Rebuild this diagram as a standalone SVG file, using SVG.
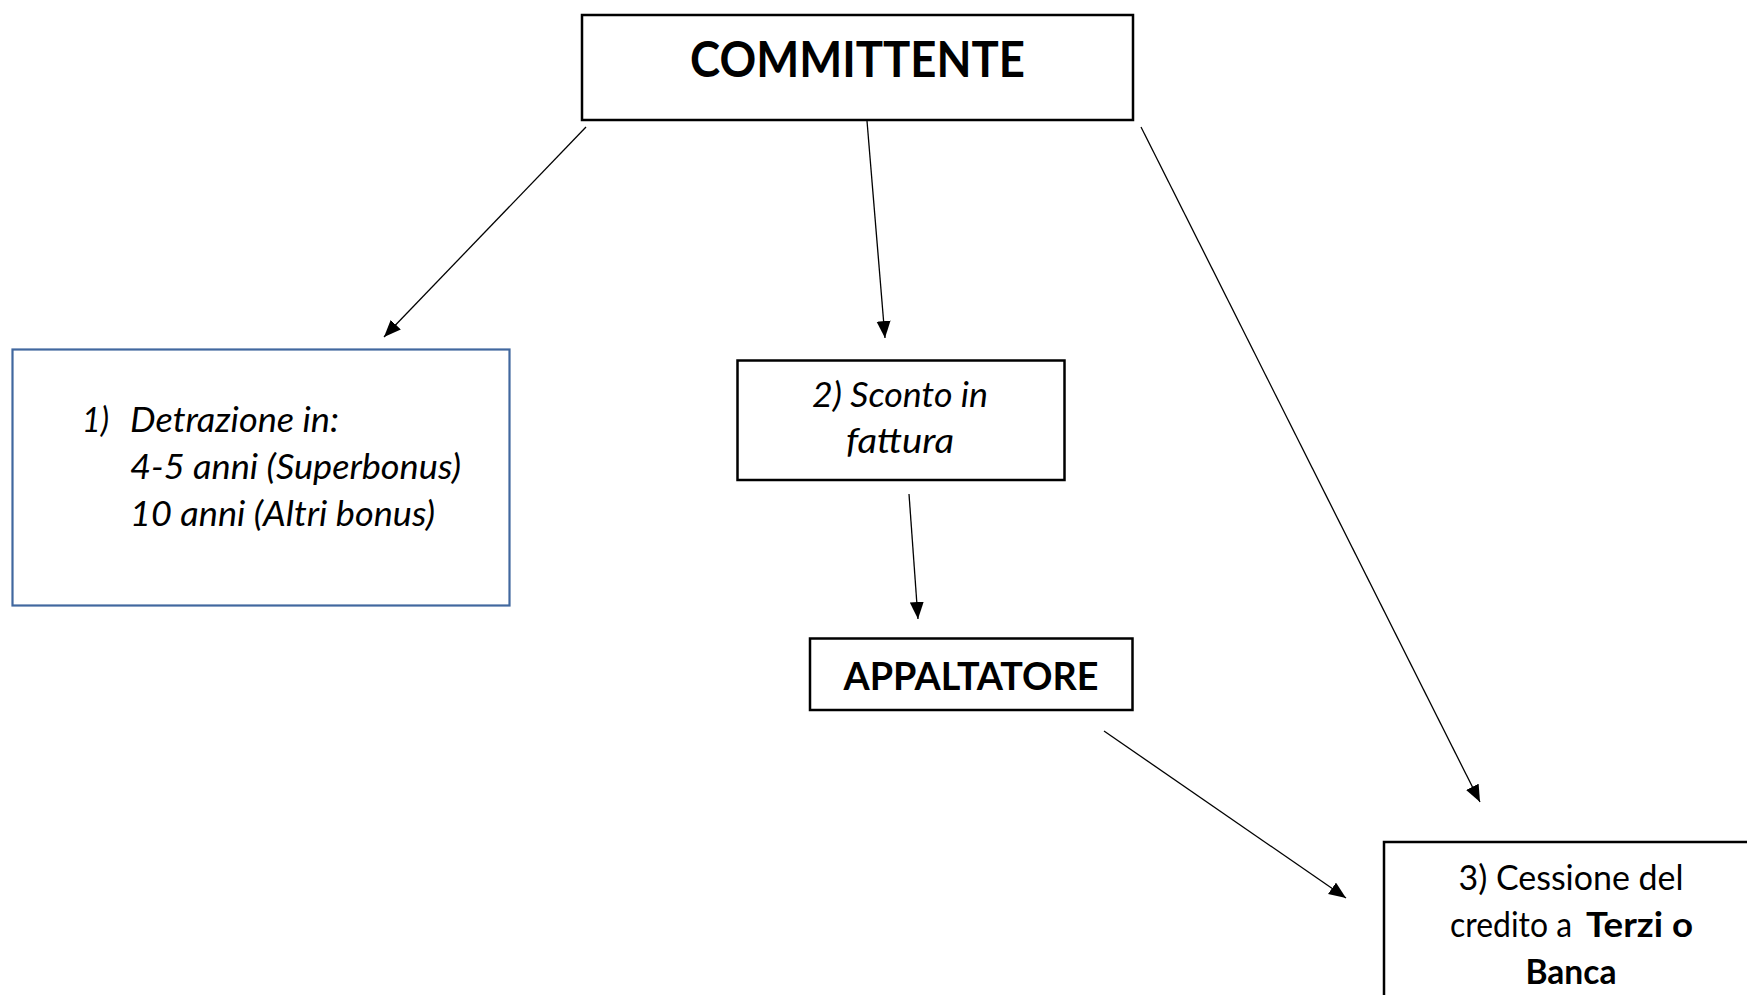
<svg xmlns="http://www.w3.org/2000/svg" width="1747" height="995" viewBox="0 0 1747 995">
  <defs>
    <marker id="arrow" markerUnits="userSpaceOnUse" markerWidth="18" markerHeight="15" refX="17" refY="7" orient="auto">
      <path d="M0,0 L17,7 L0,14 z" fill="#000"/>
    </marker>
    <style>
      .box { fill: #fff; stroke: #000; stroke-width: 2.5; }
      .blue { fill: #fff; stroke: #41689f; stroke-width: 2.2; }
      .conn { stroke: #000; stroke-width: 1.3; fill: none; marker-end: url(#arrow); }
      .t { font-family: Lato, "Liberation Sans", sans-serif; fill: #000; }
      .bold { font-weight: 700; }
      .it { font-style: italic; }
    </style>
  </defs>
  <rect width="1747" height="995" fill="#fff"/>

  <g id="connectors">
    <line class="conn" x1="586" y1="127" x2="384" y2="337"/>
    <line class="conn" x1="867" y1="121" x2="885" y2="338"/>
    <line class="conn" x1="1141" y1="127" x2="1480" y2="802"/>
    <line class="conn" x1="909" y1="494" x2="918" y2="619"/>
    <line class="conn" x1="1104" y1="731" x2="1346" y2="898"/>
  </g>

  <g id="committente">
    <rect class="box" x="582" y="15" width="551" height="105"/>
    <text class="t bold" x="857.5" y="76.5" font-size="49.5" text-anchor="middle" textLength="335" lengthAdjust="spacingAndGlyphs">COMMITTENTE</text>
  </g>

  <g id="detrazione">
    <rect class="blue" x="12.5" y="349.5" width="497" height="256"/>
    <text class="t it" x="82" y="432" font-size="35" textLength="27" lengthAdjust="spacingAndGlyphs">1)</text>
    <text class="t it" x="130" y="432" font-size="35" textLength="209" lengthAdjust="spacingAndGlyphs">Detrazione in:</text>
    <text class="t it" x="130" y="479" font-size="35" textLength="331" lengthAdjust="spacingAndGlyphs">4-5 anni (Superbonus)</text>
    <text class="t it" x="130" y="526" font-size="35" textLength="305" lengthAdjust="spacingAndGlyphs">10 anni (Altri bonus)</text>
  </g>

  <g id="sconto">
    <rect class="box" x="737.5" y="360.5" width="327" height="119.5"/>
    <text class="t it" x="900" y="407" font-size="35" text-anchor="middle" textLength="176" lengthAdjust="spacingAndGlyphs">2) Sconto in</text>
    <text class="t it" x="900" y="453" font-size="35" text-anchor="middle" textLength="108" lengthAdjust="spacingAndGlyphs">fattura</text>
  </g>

  <g id="appaltatore">
    <rect class="box" x="810" y="638.5" width="322.5" height="71.5"/>
    <text class="t bold" x="971" y="690" font-size="37.5" text-anchor="middle" textLength="255" lengthAdjust="spacingAndGlyphs">APPALTATORE</text>
  </g>

  <g id="cessione">
    <rect class="box" x="1384" y="842" width="372" height="200"/>
    <text class="t" x="1571" y="890" font-size="35" text-anchor="middle" textLength="225" lengthAdjust="spacingAndGlyphs">3) Cessione del</text>
    <text class="t" x="1450" y="937" font-size="35" textLength="122" lengthAdjust="spacingAndGlyphs">credito a</text>
    <text class="t bold" x="1586" y="937" font-size="35" textLength="107" lengthAdjust="spacingAndGlyphs">Terzi o</text>
    <text class="t bold" x="1571" y="984" font-size="35" text-anchor="middle" textLength="91" lengthAdjust="spacingAndGlyphs">Banca</text>
  </g>
</svg>
